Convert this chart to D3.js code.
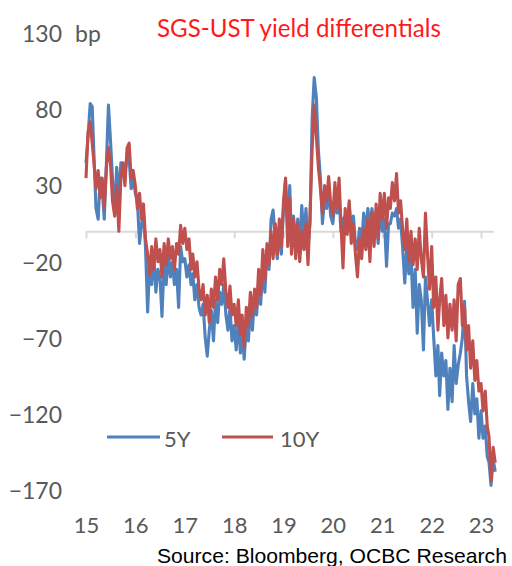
<!DOCTYPE html>
<html>
<head>
<meta charset="utf-8">
<script src="https://cdn.jsdelivr.net/npm/d3@7/dist/d3.min.js"></script>
<style>
  html, body { margin: 0; padding: 0; background: #ffffff; }
  svg { display: block; }
</style>
</head>
<body>
<svg id="chart" width="512" height="566"></svg>
<script>
// ---------------- data (bp), semi-monthly observations Jan 2015 – Apr 2023 ----------------
const seriesNames = ["5Y", "10Y"];
const seriesColors = ["#4F81BD", "#C0504D"];

const spread5Y = [
  // 2015
  45, 62, 84, 82, 50, 15, 8, 35, 28, 8, 45, 83, 60, 35, 12, 42, 22, 45, 40, 38, 50, 48, 28, 35,
  // 2016
  25, 20, -8, 5, 12, -10, -53, -20, -35, -15, -40, -25, -30, -56, -20, -35, -15, -30, -20, -35, -25, -50, -10, -20,
  // 2017
  -18, -30, -22, -35, -28, -45, -35, -50, -55, -48, -70, -82, -65, -52, -72, -45, -60, -40, -48, -35, -55, -65, -50, -72,
  // 2018
  -62, -78, -58, -80, -65, -84, -62, -72, -50, -65, -42, -55, -35, -48, -22, -40, -12, -25, 8, 14, -5, -18, 2, -15,
  // 2019
  15, 33, 0, 30, -8, 10, -10, 8, -12, 17, -5, 15, -10, 5, 75, 101, 88, 53, 35, 5, 22, 15, 28, 10,
  // 2020
  5, 20, 12, 22, 0, 8, 10, 5, 18, 0, 10, -8, -12, 2, -8, 12, 0, 15, 2, 15, 5, 12, -8, 15,
  // 2021
  0, 8, -23, 5, 5, 12, 10, 15, 2, 8, -12, -34, -10, -28, -15, -50, -25, -67, -35, -45, -78, -30, -45, -62,
  // 2022
  -45, -70, -95, -75, -108, -80, -95, -85, -117, -90, -112, -75, -100, -88, -80, -70, -46, -95, -112, -125, -100, -120, -110, -136,
  // 2023
  -118, -136, -128, -148, -152, -167, -150, -158
];

const spread10Y = [
  // 2015
  35, 65, 72, 58, 45, 28, 40, 22, 35, 15, 42, 55, 45, 20, 10, 30, 0, 35, 45, 30, 55, 58, 35, 40,
  // 2016
  30, 15, 25, 8, 18, -5, -15, -28, -10, -25, -5, -20, -12, -30, -8, -22, -5, -18, -10, -25, -8, -15, 4, -8,
  // 2017
  2, -12, -5, -25, -15, -30, -20, -38, -45, -35, -55, -42, -60, -38, -50, -30, -45, -25, -35, -18, -40, -50, -36, -55,
  // 2018
  -48, -62, -45, -68, -55, -76, -50, -62, -40, -56, -38, -50, -25, -42, -12, -32, -8, -22, 0, -18, 5, -15, 8, -10,
  // 2019
  20, 35, -10, 22, -15, 8, -18, 5, -20, 0, -12, 5, -22, 10, 55, 83, 62, 42, 28, 12, 30, 20, 36, 18,
  // 2020
  10, 32, 15, 35, 5, -24, 15, -2, 20, -8, 5, -15, -30, -5, -18, 2, -12, 8, -20, 12, -10, 18, -5, 25,
  // 2021
  8, 25, 2, 22, 15, 32, 20, 38, 12, 20, 0, -12, 8, -20, 0, -22, -5, -25, 2, -18, -30, 12, -15, -38,
  // 2022
  -10, -50, -30, -65, -45, -31, -62, -42, -70, -48, -65, -45, -72, -35, -31, -62, -50, -78, -62, -90, -72, -98, -85, -105,
  // 2023
  -100, -118, -105, -128, -135, -164, -142, -152
];

const yTickValues = [130, 80, 30, -20, -70, -120, -170];
const xTickYears = [2015, 2016, 2017, 2018, 2019, 2020, 2021, 2022, 2023];
const xTickLabels = ["15", "16", "17", "18", "19", "20", "21", "22", "23"];
const titleText = "SGS-UST yield differentials";
const unitText = "bp";
const sourceText = "Source: Bloomberg, OCBC Research";

// observation dates: 1st and 16th of each month
const dates = [];
d3.utcMonth.range(new Date(Date.UTC(2015, 0, 1)), new Date(Date.UTC(2023, 4, 1))).forEach(m => {
  dates.push(m);
  dates.push(d3.utcDay.offset(m, 15));
});

// ---------------- layout ----------------
const svg = d3.select("#chart");
const GRAY = "#595959";
const LABEL_FONT = "Lato, 'Open Sans', sans-serif";

const x = d3.scaleUtc()
  .domain([new Date(Date.UTC(2015, 0, 1)), new Date(Date.UTC(2023, 3, 1))])
  .range([86, 493.2]);
const y = d3.scaleLinear().domain([-170, 130]).range([490, 33.5]);

// helper: fit font size to a target width
function fitText(sel, targetWidth) {
  sel.attr("font-size", 100);
  const w = sel.node().getComputedTextLength();
  sel.attr("font-size", (100 * targetWidth / w).toFixed(2));
}

// y axis labels
const yAxis = d3.axisLeft(y).tickValues(yTickValues).tickSize(0).tickPadding(0).tickFormat(d3.format("d"));
const gy = svg.append("g").attr("transform", "translate(62,0)").call(yAxis);
gy.select(".domain").remove();
gy.selectAll("text")
  .attr("fill", GRAY).attr("font-family", LABEL_FONT).attr("font-size", 23).attr("dy", "0.36em");

// unit
svg.append("text").attr("x", 75).attr("y", 41.5)
  .attr("fill", GRAY).attr("font-family", LABEL_FONT).attr("font-size", 23).text(unitText);

// x axis (at zero line) with tick marks
const yearDates = xTickYears.map(yr => new Date(Date.UTC(yr, 0, 1)));
const xAxis = d3.axisBottom(x).tickValues(yearDates).tickSize(7).tickSizeOuter(0).tickFormat("");
const gx = svg.append("g").attr("transform", `translate(0,${y(0)})`).call(xAxis);
gx.select(".domain").attr("stroke", "#D9D9D9").attr("stroke-width", 2);
gx.selectAll(".tick line").attr("stroke", "#D9D9D9").attr("stroke-width", 2);

// x labels at bottom
const xLabelAxis = d3.axisBottom(x).tickValues(yearDates).tickSize(0).tickPadding(0)
  .tickFormat((d, i) => xTickLabels[i]);
const gxl = svg.append("g").attr("transform", "translate(0,533)").call(xLabelAxis);
gxl.select(".domain").remove();
gxl.selectAll("text").attr("dy", 0).attr("y", 0)
  .attr("fill", GRAY).attr("font-family", LABEL_FONT).attr("font-size", 22);

// lines
const series = [spread5Y, spread10Y];
const line = d3.line().x((d, i) => x(dates[i])).y(d => y(d));
series.forEach((vals, k) => {
  svg.append("path")
    .datum(vals)
    .attr("fill", "none")
    .attr("stroke", seriesColors[k])
    .attr("stroke-width", 3.1)
    .attr("stroke-linejoin", "round")
    .attr("d", line);
});

// legend
const legendItems = [
  { x1: 107, x2: 160, tx: 164 },
  { x1: 222, x2: 273, tx: 280 }
];
legendItems.forEach((it, k) => {
  svg.append("line").attr("x1", it.x1).attr("x2", it.x2).attr("y1", 437).attr("y2", 437)
    .attr("stroke", seriesColors[k]).attr("stroke-width", 3);
  svg.append("text").attr("x", it.tx).attr("y", 446.5)
    .attr("fill", GRAY).attr("font-family", LABEL_FONT).attr("font-size", 22).text(seriesNames[k]);
});

// title
const title = svg.append("text").attr("x", 157).attr("y", 37)
  .attr("fill", "#FF1A1A").attr("font-family", LABEL_FONT).text(titleText);
fitText(title, 284);

// source
const src = svg.append("text").attr("x", 157).attr("y", 563)
  .attr("fill", "#000000").attr("font-family", "'Liberation Sans', Arial, sans-serif").text(sourceText);
fitText(src, 350);
</script>
</body>
</html>
